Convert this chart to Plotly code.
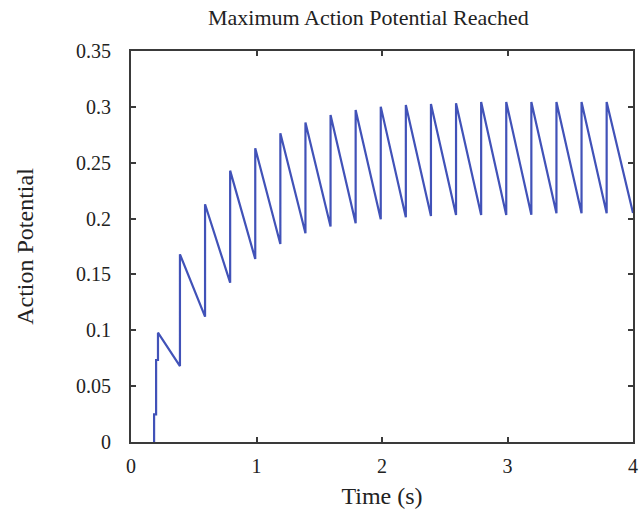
import plotly.graph_objects as go

# Initial staircase rise (time in s, level reached)
onset_times = [0.184, 0.200, 0.215]
onset_levels = [0.0248, 0.0734, 0.0979]

# Stimulus pulse times and the potential just before / just after each pulse
pulse_times = [0.39, 0.59, 0.79, 0.99, 1.19, 1.39, 1.59, 1.79, 1.99,
               2.19, 2.39, 2.59, 2.79, 2.99, 3.19, 3.39, 3.59, 3.79]
trough_values = [0.068, 0.1122, 0.1426, 0.1638, 0.1773, 0.1868, 0.1928, 0.1958, 0.1994,
                 0.2012, 0.2023, 0.2032, 0.2032, 0.2032, 0.2035, 0.2047, 0.2047, 0.2047]
peak_values = [0.168, 0.2128, 0.2429, 0.2629, 0.2764, 0.2859, 0.2927, 0.2972, 0.3002,
               0.3017, 0.3026, 0.3032, 0.3044, 0.3044, 0.3044, 0.3044, 0.3044, 0.3044]

end_time = 4.0
end_value = 0.205

x_ticks = [0, 1, 2, 3, 4]
y_ticks = [0, 0.05, 0.1, 0.15, 0.2, 0.25, 0.3, 0.35]
y_tick_text = ["0", "0.05", "0.1", "0.15", "0.2", "0.25", "0.3", "0.35"]

# Assemble the trace: vertical jumps at each event, linear decay in between
xs = [onset_times[0]]
ys = [0.0]
prev = 0.0
for t, lv in zip(onset_times, onset_levels):
    xs += [t, t]
    ys += [prev, lv]
    prev = lv
for t, lo, hi in zip(pulse_times, trough_values, peak_values):
    xs += [t, t]
    ys += [lo, hi]
xs.append(end_time)
ys.append(end_value)

serif = "Liberation Serif, Times New Roman, serif"
axis_color = "#3a3a3a"

fig = go.Figure()
fig.add_trace(go.Scatter(
    x=xs, y=ys, mode="lines",
    line=dict(color="#4152B8", width=2.2),
    showlegend=False, hoverinfo="skip",
))

fig.update_layout(
    width=643, height=512,
    margin=dict(l=131, r=5, t=51, b=70),
    paper_bgcolor="white", plot_bgcolor="white",
    font=dict(family=serif, size=20, color="#222222"),
    title=dict(text="Maximum Action Potential Reached", x=0.573, xanchor="center",
               y=0.967, yanchor="middle", font=dict(family=serif, size=22, color="#222222")),
)
fig.update_xaxes(
    range=[0, 4], tickvals=x_ticks, ticktext=[str(v) for v in x_ticks],
    showgrid=False, zeroline=False,
    showline=True, linecolor=axis_color, linewidth=2, mirror="ticks",
    ticks="inside", ticklen=5, tickwidth=1.5, tickcolor=axis_color,
    ticklabelstandoff=5,
    title=dict(text="Time (s)", standoff=11),
)
fig.update_yaxes(
    range=[0, 0.35], tickvals=y_ticks, ticktext=y_tick_text,
    showgrid=False, zeroline=False,
    showline=True, linecolor=axis_color, linewidth=2, mirror="ticks",
    ticks="inside", ticklen=5, tickwidth=1.5, tickcolor=axis_color,
    ticklabelstandoff=14,
    title=dict(text="Action Potential", standoff=36),
)

fig.write_html("out.html")
